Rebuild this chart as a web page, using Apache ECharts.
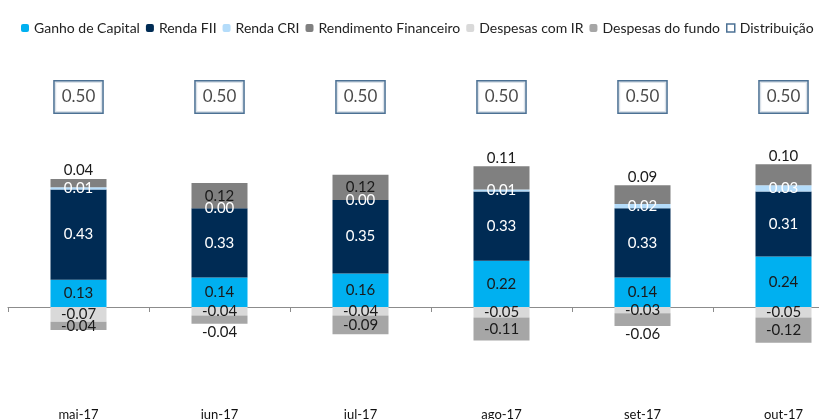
<!DOCTYPE html>
<html>
<head>
<meta charset="utf-8">
<script src="https://cdn.jsdelivr.net/npm/echarts@6/dist/echarts.min.js"></script>
<style>
  html, body { margin: 0; padding: 0; background: #fff; }
  #chart { width: 819px; height: 419px; }
</style>
</head>
<body>
<div id="chart"></div>
<script>
// dados (R$/cota)
const categories = ['mai-17', 'jun-17', 'jul-17', 'ago-17', 'set-17', 'out-17'];
const ganhoCapital = [0.13, 0.14, 0.16, 0.22, 0.14, 0.24];
const rendaFII = [0.43, 0.33, 0.35, 0.33, 0.33, 0.31];
const rendaCRI = [0.01, 0.00, 0.00, 0.01, 0.02, 0.03];
const rendFinanceiro = [0.04, 0.12, 0.12, 0.11, 0.09, 0.10];
const despesasIR = [-0.07, -0.04, -0.04, -0.05, -0.03, -0.05];
const despesasFundo = [-0.04, -0.04, -0.09, -0.11, -0.06, -0.12];
const distribuicao = [0.50, 0.50, 0.50, 0.50, 0.50, 0.50];

const chart = echarts.init(document.getElementById('chart'));
const font = 'Lato, "Open Sans", sans-serif';
const fmt = p => p.value.toFixed(2);

// posição dos rótulos como no original (alguns por cima da barra)
const finLabelPos = ['top', 'inside', 'inside', 'top', 'top', 'top'];
const fundoLabelPos = ['inside', 'bottom', 'inside', 'inside', 'bottom', 'inside'];

function bar(name, values, color, textColor, positions) {
  return {
    name: name,
    type: 'bar',
    stack: 'total',
    barWidth: 56,
    itemStyle: { color: color },
    label: {
      show: true,
      position: 'inside',
      color: textColor,
      fontFamily: font,
      fontSize: 15,
      formatter: fmt
    },
    data: values.map((v, i) => positions
      ? { value: v, label: { position: positions[i], distance: 1, color: '#1a1a1a' } }
      : v)
  };
}

chart.setOption({
  animation: false,
  textStyle: { fontFamily: font },
  legend: {
    left: 16,
    top: 16,
    width: 810,
    itemWidth: 8,
    itemHeight: 8,
    itemGap: 6,
    textStyle: { fontSize: 14, color: '#222', fontFamily: font },
    data: [
      'Ganho de Capital', 'Renda FII', 'Renda CRI', 'Rendimento Financeiro',
      'Despesas com IR', 'Despesas do fundo',
      { name: 'Distribuição', icon: 'rect',
        itemStyle: { color: '#fff', borderColor: '#1F4E79', borderWidth: 1.5 } }
    ]
  },
  grid: { left: 8, right: -35, top: 34, bottom: 7, outerBoundsMode: 'none' },
  xAxis: [
    {
      // rótulos das categorias, no rodapé
      type: 'category',
      data: categories,
      axisLine: { show: false, onZero: false },
      axisTick: { show: false },
      axisLabel: { margin: -4, fontSize: 13, color: '#111', fontFamily: font }
    },
    {
      // linha do zero com marcas
      type: 'category',
      data: categories,
      position: 'bottom',
      axisLine: { onZero: true, lineStyle: { color: '#8c8c8c', width: 1.2 } },
      axisTick: { show: true, length: 5, lineStyle: { color: '#8c8c8c' } },
      axisLabel: { show: false }
    }
  ],
  yAxis: [
    { type: 'value', min: -0.5, max: 1.3, show: false, splitLine: { show: false } },
    { type: 'value', min: -0.25, max: 0.65, show: false, splitLine: { show: false } }
  ],
  series: [
    bar('Ganho de Capital', ganhoCapital, '#00B0F0', '#1a1a1a'),
    bar('Renda FII', rendaFII, '#002B54', '#ffffff'),
    bar('Renda CRI', rendaCRI, '#B4DCFA', '#ffffff'),
    bar('Rendimento Financeiro', rendFinanceiro, '#808080', '#1a1a1a', finLabelPos),
    bar('Despesas com IR', despesasIR, '#D9D9D9', '#1a1a1a'),
    bar('Despesas do fundo', despesasFundo, '#A6A6A6', '#1a1a1a', fundoLabelPos),
    {
      name: 'Distribuição',
      type: 'scatter',
      yAxisIndex: 1,
      symbolSize: 1,
      itemStyle: { color: 'rgba(0,0,0,0)' },
      label: {
        show: true,
        position: 'inside',
        formatter: fmt,
        fontFamily: font,
        fontSize: 17,
        color: '#1a1a1a',
        lineHeight: 21,
        padding: [5, 7],
        backgroundColor: '#fff',
        borderColor: '#1F4E79',
        borderWidth: 1.5
      },
      data: distribuicao
    }
  ]
});
</script>
</body>
</html>
